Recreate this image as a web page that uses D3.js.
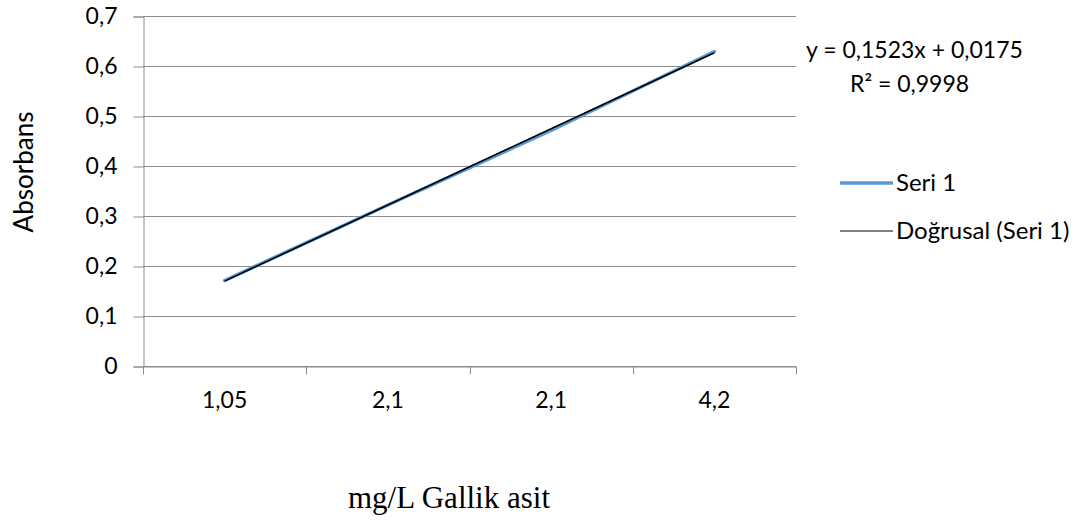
<!DOCTYPE html>
<html>
<head>
<meta charset="utf-8">
<style>
    body { margin: 0; background: #fff; }
    svg text { font-family: Lato, "Noto Sans", sans-serif; fill: #000; }
</style>
</head>
<body>
<svg id="chart" width="1085" height="522"></svg>
<script src="https://cdnjs.cloudflare.com/ajax/libs/d3/7.8.5/d3.min.js"></script>
<script>
    // data
    var categories = ["1,05", "2,1", "2,1", "4,2"];
    var seri1 = [0.171, 0.322, 0.471, 0.629];
    var yTicks = [0, 0.1, 0.2, 0.3, 0.4, 0.5, 0.6, 0.7];
    var trendSlope = 0.1523;
    var trendIntercept = 0.0175;
    var equationText = "y = 0,1523x + 0,0175";
    var r2Text = "R² = 0,9998";

    var svg = d3.select("#chart");
    var plotLeft = 143, plotRight = 796, plotTop = 16, plotBottom = 366;

    var x = d3.scaleBand()
        .domain(d3.range(categories.length))
        .range([plotLeft, plotRight])
        .padding(0);
    var y = d3.scaleLinear().domain([0, 0.7]).range([plotBottom, plotTop]);
    var cx = i => x(i) + x.bandwidth() / 2;
    var fmt = v => String(+v.toFixed(1)).replace(".", ",");
    var gridColor = "#8c8c8c";

    // gridlines
    svg.append("g").selectAll("line")
        .data(yTicks)
        .enter().append("line")
        .attr("x1", plotLeft).attr("x2", plotRight)
        .attr("y1", d => Math.round(y(d)) + 0.5)
        .attr("y2", d => Math.round(y(d)) + 0.5)
        .attr("stroke", gridColor);

    // y axis
    var yAxis = svg.append("g")
        .attr("transform", "translate(" + (plotLeft + 0.5) + ",0.5)")
        .call(d3.axisLeft(y).tickValues(yTicks).tickFormat(fmt).tickSize(10).tickPadding(16));
    yAxis.select(".domain").attr("stroke", gridColor);
    yAxis.selectAll(".tick line").attr("stroke", gridColor);
    yAxis.selectAll("text").attr("font-size", 23).attr("font-family", "Lato");

    // x axis
    var xAxis = svg.append("g")
        .attr("transform", "translate(0," + (plotBottom + 0.5) + ")")
        .call(d3.axisBottom(x).tickFormat(i => categories[i]).tickSize(0).tickPadding(25));
    xAxis.select(".domain").attr("stroke", gridColor);
    xAxis.selectAll("text").attr("font-size", 23).attr("font-family", "Lato");
    xAxis.selectAll(".sep")
        .data(d3.range(categories.length + 1))
        .enter().append("line")
        .attr("x1", i => Math.round(plotLeft + i * x.bandwidth()) + 0.5)
        .attr("x2", i => Math.round(plotLeft + i * x.bandwidth()) + 0.5)
        .attr("y1", 0).attr("y2", 8)
        .attr("stroke", gridColor);

    // series line
    var line = d3.line().x((d, i) => cx(i)).y(d => y(d));
    svg.append("path")
        .datum(seri1)
        .attr("d", line)
        .attr("fill", "none")
        .attr("stroke", "#5b9bd5")
        .attr("stroke-width", 3.5)
        .attr("stroke-linecap", "round")
        .attr("stroke-linejoin", "round");

    // linear trendline, x = 1..n
    var trend = d3.range(categories.length).map(i => trendSlope * (i + 1) + trendIntercept);
    svg.append("path")
        .datum(trend)
        .attr("d", line)
        .attr("fill", "none")
        .attr("stroke", "#000")
        .attr("stroke-width", 1.6);

    // equation
    svg.append("text").attr("x", 806).attr("y", 58).attr("font-size", 23).text(equationText);
    svg.append("text").attr("x", 850).attr("y", 92).attr("font-size", 23).text(r2Text);

    // legend
    var legend = [
        { name: "Seri 1", color: "#5b9bd5", w: 3.5, y: 183 },
        { name: "Doğrusal (Seri 1)", color: "#000", w: 1, y: 231 }
    ];
    var lg = svg.append("g").selectAll("g").data(legend).enter().append("g");
    lg.append("line")
        .attr("x1", 840).attr("x2", 893)
        .attr("y1", d => d.y).attr("y2", d => d.y)
        .attr("stroke", d => d.color).attr("stroke-width", d => d.w);
    lg.append("text")
        .attr("x", 896).attr("y", d => d.y + 8)
        .attr("font-size", 24)
        .text(d => d.name);

    // axis titles
    svg.append("text")
        .attr("transform", "translate(33,172) rotate(-90)")
        .attr("text-anchor", "middle")
        .attr("font-size", 26)
        .text("Absorbans");
    svg.append("text")
        .attr("x", 449).attr("y", 508)
        .attr("text-anchor", "middle")
        .attr("font-size", 31)
        .style("font-family", "'Liberation Serif', 'Times New Roman', serif")
        .text("mg/L Gallik asit");
</script>
</body>
</html>
